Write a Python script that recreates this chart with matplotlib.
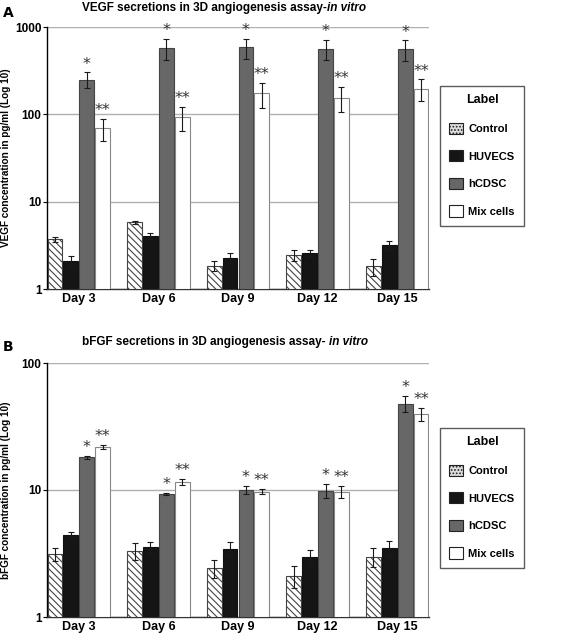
import matplotlib
matplotlib.use("Agg")
import matplotlib.pyplot as plt
import numpy as np
from matplotlib import font_manager as fm
from matplotlib.patches import Patch

names = {f.name for f in fm.fontManager.ttflist}
FONT = "Liberation Sans Narrow" if "Liberation Sans Narrow" in names else "Liberation Sans"
plt.rcParams['font.family'] = [FONT, 'DejaVu Sans']
plt.rcParams['hatch.color'] = '#555555'
plt.rcParams['hatch.linewidth'] = 0.8

days = ["Day 3", "Day 6", "Day 9", "Day 12", "Day 15"]
groups = ["Control", "HUVECS", "hCDSC", "Mix cells"]

vegf_control = [3.69, 5.79, 1.84, 2.42, 1.81]
vegf_control_err = [0.25, 0.2, 0.25, 0.35, 0.4]
vegf_huvecs = [2.08, 4.06, 2.27, 2.57, 3.18]
vegf_huvecs_err = [0.3, 0.3, 0.3, 0.2, 0.35]
vegf_hcdsc = [250, 574, 584, 564, 554]
vegf_hcdsc_err = [52, 150, 150, 150, 150]
vegf_mix = [69, 93, 174, 155, 196]
vegf_mix_err = [20, 28, 55, 50, 55]

bfgf_control = [3.13, 3.33, 2.42, 2.10, 2.99]
bfgf_control_err = [0.35, 0.5, 0.4, 0.4, 0.5]
bfgf_huvecs = [4.40, 3.54, 3.45, 2.95, 3.50]
bfgf_huvecs_err = [0.3, 0.35, 0.45, 0.45, 0.5]
bfgf_hcdsc = [18.1, 9.25, 10.0, 9.88, 47.8]
bfgf_hcdsc_err = [0.4, 0.15, 0.7, 1.2, 7.0]
bfgf_mix = [21.7, 11.6, 9.7, 9.7, 39.7]
bfgf_mix_err = [0.8, 0.6, 0.4, 1.0, 4.5]

sig_marks = ["", "", "*", "**"]

styles = [
    dict(facecolor='white', edgecolor='#444444', hatch='\\\\\\\\\\'),
    dict(facecolor='#151515', edgecolor='#111111', hatch=None),
    dict(facecolor='#676767', edgecolor='#444444', hatch=None),
    dict(facecolor='white', edgecolor='#888888', hatch=None),
]

W, H = 570, 637
fig = plt.figure(figsize=(W / 100, H / 100), dpi=100)

def ax_rect(l, r, t, b):
    return [l / W, 1 - b / H, (r - l) / W, (b - t) / H]

def panel(rect, series, errs, ylim, ylabel, title_main, panel_letter, title_y, letter_y, legend_rect):
    ax = fig.add_axes(ax_rect(*rect))
    x = np.arange(len(days))
    bw = 0.2
    base = ylim[0]
    for i, (vals, err) in enumerate(zip(series, errs)):
        pos = x - 0.3 + i * bw
        st = styles[i]
        v = np.array(vals, dtype=float)
        e = np.array(err, dtype=float)
        ax.bar(pos, v - base, width=bw * 0.93, bottom=base, facecolor=st['facecolor'],
               edgecolor=st['edgecolor'], hatch=st['hatch'], linewidth=0.8, zorder=3)
        ax.errorbar(pos, v, yerr=[np.minimum(e, v - base * 1.0001), e], fmt='none',
                    ecolor='#1a1a1a', elinewidth=0.8, capsize=2.2, capthick=0.8, zorder=4)
        if sig_marks[i]:
            for p, vv, ee in zip(pos, v, e):
                ax.text(p, (vv + ee) * 1.02, sig_marks[i], ha='center', va='bottom',
                        fontsize=11.5, color='#333333', family='DejaVu Sans', zorder=5)
    ax.set_yscale('log')
    ax.set_ylim(*ylim)
    ax.set_xlim(-0.4, 4.4)
    ax.yaxis.grid(True, which='major', color='#b0b0b0', linewidth=1.0, zorder=0)
    ax.set_axisbelow(True)
    ax.yaxis.set_minor_locator(matplotlib.ticker.NullLocator())
    ticks = [10 ** k for k in range(int(round(np.log10(ylim[0]))), int(round(np.log10(ylim[1]))) + 1)]
    ax.set_yticks(ticks)
    ax.set_yticklabels([str(int(t)) for t in ticks], fontsize=8.5, fontweight='bold')
    ax.set_xticks(x)
    ax.set_xticklabels(days, fontsize=9, fontweight='bold')
    ax.tick_params(axis='x', length=0, pad=3)
    ax.tick_params(axis='y', length=3, width=0.8, pad=1)
    for s in ['top', 'right']:
        ax.spines[s].set_visible(False)
    ax.spines['left'].set_linewidth(1.0)
    ax.spines['bottom'].set_linewidth(1.0)
    ax.spines['bottom'].set_color('#333333')
    ax.set_ylabel(ylabel, fontsize=7.2, fontweight='bold')
    ax.yaxis.set_label_coords(-0.095, 0.5)
    # title with italic part
    t1 = fig.text(82 / W, 1 - title_y / H, title_main, ha='left', va='center',
                  fontsize=8.5, fontweight='bold')
    fig.canvas.draw()
    ax.annotate("in vitro", xy=(1, 0.5), xycoords=t1, ha='left', va='center',
                fontsize=8.5, fontweight='bold', fontstyle='italic', annotation_clip=False)
    fig.text(3 / W, 1 - letter_y / H, panel_letter, ha='left', va='center', fontsize=10,
             fontweight='bold', family='DejaVu Sans')
    # legend
    handles = [Patch(facecolor=st['facecolor'] if i != 0 else '#dddddd',
                     edgecolor='#222222', hatch=('.....' if i == 0 else None), linewidth=0.8)
               for i, st in enumerate(styles)]
    lax = fig.add_axes(ax_rect(*legend_rect))
    lax.axis('off')
    leg = lax.legend(handles, groups, loc='center', title='Label', frameon=True,
                     fancybox=False, edgecolor='#333333',
                     title_fontproperties={'weight': 'bold', 'size': 9},
                     prop={'weight': 'bold', 'size': 8}, labelspacing=1.45,
                     handlelength=1.3, handleheight=1.2, handletextpad=0.45,
                     borderpad=0.8, borderaxespad=0)
    leg.get_frame().set_linewidth(1.0)
    return ax

panel((47, 429, 27, 289),
      [vegf_control, vegf_huvecs, vegf_hcdsc, vegf_mix],
      [vegf_control_err, vegf_huvecs_err, vegf_hcdsc_err, vegf_mix_err],
      (1, 1000), "VEGF concentration in pg/ml (Log 10)",
      "VEGF secretions in 3D angiogenesis assay-", "A", 8, 13, (442, 522, 82, 229))

panel((47, 429, 363, 617),
      [bfgf_control, bfgf_huvecs, bfgf_hcdsc, bfgf_mix],
      [bfgf_control_err, bfgf_huvecs_err, bfgf_hcdsc_err, bfgf_mix_err],
      (1, 100), "bFGF concentration in pg/ml (Log 10)",
      "bFGF secretions in 3D angiogenesis assay- ", "B", 342, 347, (442, 522, 424, 571))

fig.savefig("out.png", dpi=100)
